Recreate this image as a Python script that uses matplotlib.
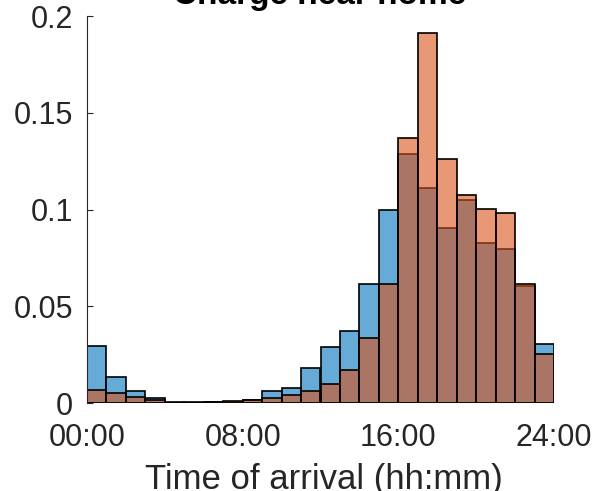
import matplotlib
matplotlib.use('Agg')
import matplotlib.pyplot as plt

plt.rcParams['font.family'] = ['Liberation Sans', 'DejaVu Sans']

hours = list(range(24))
# share of arrivals per hour
blue = [0.0296, 0.0136, 0.0065, 0.0029, 0.0005, 0.0005, 0.0008, 0.0008,
        0.0018, 0.0065, 0.0081, 0.0184, 0.0291, 0.0372, 0.0618, 0.0999,
        0.1287, 0.1114, 0.0904, 0.1051, 0.0828, 0.0797, 0.0608, 0.0308]
orange = [0.0069, 0.0052, 0.0034, 0.0017, 0.0003, 0.0003, 0.0006, 0.0013,
          0.0015, 0.0026, 0.0041, 0.0065, 0.0101, 0.0174, 0.0336, 0.0617,
          0.1370, 0.1914, 0.1263, 0.1077, 0.1003, 0.0982, 0.0618, 0.0256]
xticks = [0, 8, 16, 24]
xticklabels = ['00:00', '08:00', '16:00', '24:00']
yticks = [0, 0.05, 0.1, 0.15, 0.2]
yticklabels = ['0', '0.05', '0.1', '0.15', '0.2']

fig = plt.figure(figsize=(5.94, 4.91), dpi=100)
ax = fig.add_axes([87 / 594, 1 - 403.3 / 491, 467 / 594, 387.3 / 491])

ax.bar(hours, blue, width=1, align='edge', facecolor=(0, 0.447, 0.741, 0.6),
       edgecolor='black', linewidth=1.2)
ax.bar(hours, orange, width=1, align='edge', facecolor=(0.85, 0.325, 0.098, 0.6),
       edgecolor='black', linewidth=1.2)

ax.set_xlim(0, 24)
ax.set_ylim(0, 0.2)
ax.set_xticks(xticks)
ax.set_xticklabels(xticklabels)
ax.set_yticks(yticks)
ax.set_yticklabels(yticklabels)

for s in ['top', 'right', 'bottom']:
    ax.spines[s].set_visible(False)
ax.spines['left'].set_color('#262626')
ax.spines['left'].set_linewidth(0.8)

ax.tick_params(axis='y', direction='in', length=4, width=0.8, colors='#262626',
               labelsize=22, pad=10)
ax.tick_params(axis='x', length=0, labelsize=22, labelcolor='#262626', pad=14)

fig.text(0.545, 1 - 489 / 491, 'Time of arrival (hh:mm)', ha='center', va='baseline',
         fontsize=25, color='#262626')
fig.text(0.538, 1 - 4 / 491, 'Charge near home', ha='center', va='baseline',
         fontsize=24, fontweight='bold')

fig.savefig('out.png', dpi=100)
